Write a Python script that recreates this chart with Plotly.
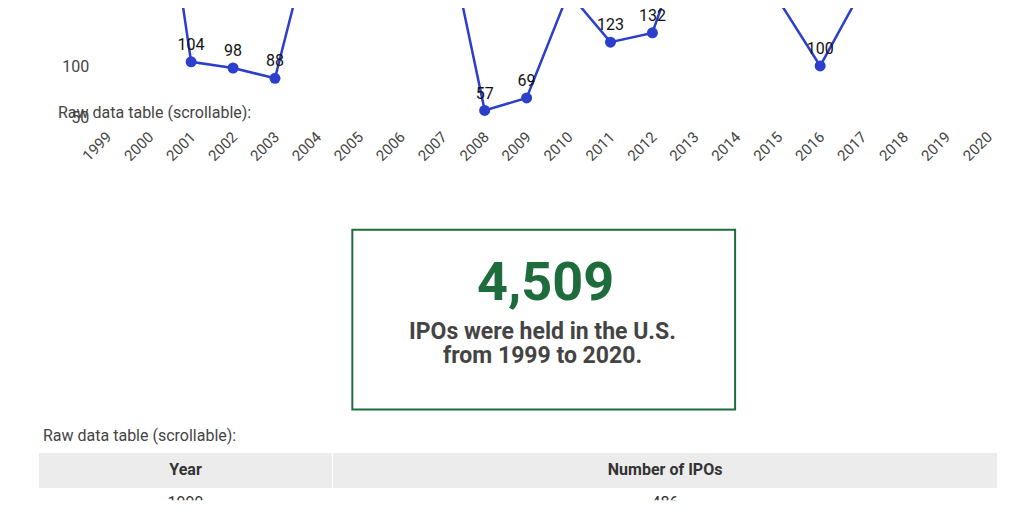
import plotly.graph_objects as go

years = list(range(1999, 2021))
ipos = [486, 380, 104, 98, 88, 248, 236, 240, 250, 57, 69, 171, 123, 132, 249, 275, 164, 100, 174, 261, 197, 407]
total_text = "4,509"
table_years = [1999]
table_ipos = [486]

W, H, OFF = 1008, 496, 8
def px(x): return (x - OFF) / W
def py(y): return 1 - (y - OFF) / H

fig = go.Figure()
fig.add_trace(go.Scatter(
    x=years, y=ipos, mode="lines+markers+text",
    text=[str(v) for v in ipos], textposition="top center",
    textfont=dict(family="Roboto", size=16, color="#111"),
    line=dict(color="#2b3fcc", width=2.5), marker=dict(color="#2b3fcc", size=11),
    cliponaxis=False, showlegend=False))

fig.add_trace(go.Table(
    domain=dict(x=[px(28), px(998)], y=[0, py(455)]),
    columnwidth=[297, 673],
    header=dict(values=["<b>Year</b>", "<b>Number of IPOs</b>"], fill_color="#ececec",
                line_color="white", height=36, font=dict(family="Roboto", size=16, color="#333")),
    cells=dict(values=[table_years, table_ipos], fill_color="white", line_color="white",
               height=36, font=dict(family="Roboto", size=16, color="#333"))))

# x: 2001 at px 182, 42.4 px/year
x_left, x_right = 80, 1000
r0 = 2001 - (182 - x_left) / 42.4
r1 = 2001 + (x_right - 182) / 42.4
fig.update_layout(
    width=W, height=H, margin=dict(l=0, r=0, t=0, b=0),
    paper_bgcolor="white", plot_bgcolor="white",
    font=dict(family="Roboto", color="#444"),
    xaxis=dict(domain=[px(x_left), px(x_right)], range=[r0, r1], tickvals=years,
               tickangle=-45, showgrid=False, zeroline=False, tickfont=dict(size=15, color="#444")),
    yaxis=dict(domain=[py(125), 1], range=[57 - (125 - 111) / 1.04, 57 + (111 - OFF) / 1.04],
               tickvals=[50, 100, 150], showgrid=False, zeroline=False,
               tickfont=dict(size=16, color="#444")),
    shapes=[dict(type="rect", xref="paper", yref="paper", x0=px(345), x1=px(732),
                 y0=py(412), y1=py(231), line=dict(color="#1e6b3c", width=2))],
    annotations=[
        dict(text="Raw data table (scrollable):", xref="paper", yref="paper", x=px(45), y=py(113),
             xanchor="left", yanchor="middle", showarrow=False, font=dict(size=16, color="#444")),
        dict(text="<b>" + total_text + "</b>", xref="paper", yref="paper", x=px(540), y=py(283),
             showarrow=False, font=dict(size=54, color="#1e6b3c")),
        dict(text="<b>IPOs were held in the U.S.</b>", xref="paper", yref="paper", x=px(537), y=py(333),
             showarrow=False, font=dict(size=23, color="#444")),
        dict(text="<b>from 1999 to 2020.</b>", xref="paper", yref="paper", x=px(537), y=py(373),
             showarrow=False, font=dict(size=23, color="#444")),
        dict(text="Raw data table (scrollable):", xref="paper", yref="paper", x=px(30), y=py(438),
             xanchor="left", yanchor="middle", showarrow=False, font=dict(size=16, color="#444")),
    ])
fig.write_html("out.html")
